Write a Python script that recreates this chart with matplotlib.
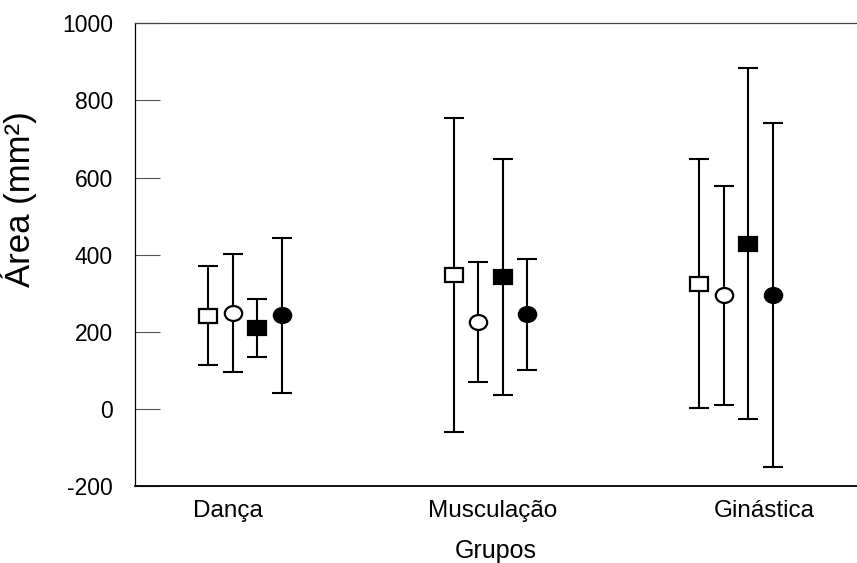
import numpy as np
import matplotlib.pyplot as plt
from matplotlib.markers import MarkerStyle
from matplotlib.transforms import Affine2D

plt.rcParams['font.family'] = ['Liberation Sans', 'DejaVu Sans']
plt.rcParams['axes.unicode_minus'] = False

# groups and values (mean and +/- spread)
groups = ['Dança', 'Musculação', 'Ginástica']
group_x = [1, 2, 3]
label_x = [0.93, 2.01, 3.115]

open_sq_mean = [242, 347, 325]
open_sq_sd = [128, 407, 322]
open_circ_mean = [249, 226, 295]
open_circ_sd = [152, 156, 284]
fill_sq_mean = [210, 342, 429]
fill_sq_sd = [75, 305, 455]
fill_circ_mean = [243, 246, 296]
fill_circ_sd = [201, 144, 446]

yticks = [-200, 0, 200, 400, 600, 800, 1000]

fig = plt.figure(figsize=(8.57, 5.63), dpi=100)
ax = fig.add_axes([0.157, 0.136, 0.843, 0.823])

squash = Affine2D().scale(1, 0.86)
series = [
    (open_sq_mean, open_sq_sd, 's', 'white', -0.15),
    (open_circ_mean, open_circ_sd, 'o', 'white', -0.05),
    (fill_sq_mean, fill_sq_sd, 's', 'black', 0.05),
    (fill_circ_mean, fill_circ_sd, 'o', 'black', 0.15),
]
for mean, sd, mk, face, off in series:
    xs = np.array(group_x) + off
    ax.errorbar(xs, mean, yerr=sd, fmt='none', ecolor='black',
                elinewidth=1.5, capsize=7, capthick=1.5, zorder=2)
    ax.plot(xs, mean, linestyle='none', marker=MarkerStyle(mk, transform=squash),
            markersize=12.5, markerfacecolor=face, markeredgecolor='black',
            markeredgewidth=1.6, zorder=3)

ax.set_xlim(0.551, 3.493)
ax.set_ylim(-200, 1000)
ax.set_yticks(yticks)
ax.set_xticks(label_x, groups)

ax.tick_params(axis='y', direction='in', length=17.7, width=0.8, color='#555555',
               labelsize=16.5, pad=15.5)
ax.tick_params(axis='x', length=0, labelsize=17.5, pad=10)

ax.spines['right'].set_visible(False)
ax.spines['top'].set_color('#444444')
ax.spines['top'].set_linewidth(0.9)
ax.spines['left'].set_linewidth(0.9)
ax.spines['bottom'].set_linewidth(1.3)

ax.set_ylabel('Área (mm²)', fontsize=25)
ax.yaxis.set_label_coords(-0.135, 0.62)
ax.set_xlabel('Grupos', fontsize=18, labelpad=12)

fig.savefig('out.png', dpi=100)
